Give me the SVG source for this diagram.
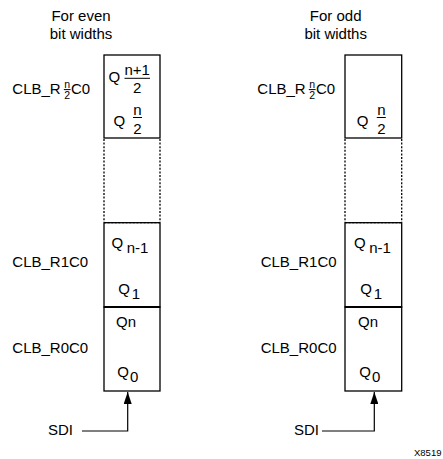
<svg xmlns="http://www.w3.org/2000/svg" width="443" height="459" viewBox="0 0 443 459">
<style>
text{font-family:"Liberation Sans",Arial,sans-serif;font-size:15px;fill:#000}
.t{text-anchor:middle}
.sm{font-size:10.5px;text-anchor:middle}
.box{fill:#fff;stroke:#000;stroke-width:1.3}
.dot{fill:none;stroke:#000;stroke-width:1.3;stroke-dasharray:2 1.6}
.div{stroke:#000;stroke-width:2}
.fl{stroke:#000;stroke-width:1}
.wire{fill:none;stroke:#000;stroke-width:1.2}
.id{font-size:9.5px}
</style>
<defs>
<marker id="ah" viewBox="0 0 12 8" refX="12" refY="4" markerWidth="12" markerHeight="8" markerUnits="userSpaceOnUse" orient="auto">
<path d="M0,0 L12,4 L0,8 Z" fill="#000"/>
</marker>
</defs>

<g id="title-even"><text class="t" x="81" y="20.5">For even</text><text class="t" x="81" y="39.3">bit widths</text></g>
<g id="title-odd"><text class="t" x="335.7" y="20.5">For odd</text><text class="t" x="335.7" y="39.3">bit widths</text></g>

<!-- left column -->
<g id="even-top">
<rect class="box" x="104" y="55" width="56" height="83"/>
<text x="12.3" y="93.5">CLB_R</text>
<text class="sm" x="67.2" y="87.7">n</text>
<line class="fl" x1="63.8" y1="89.6" x2="70.6" y2="89.6"/>
<text class="sm" x="67.2" y="99.3">2</text>
<text x="71" y="93.5">C0</text>
<text x="108.5" y="81.5">Q</text>
<text class="t" x="137.2" y="75">n+1</text>
<line class="fl" x1="124.5" y1="78.3" x2="150" y2="78.3"/>
<text class="t" x="137.2" y="92.5">2</text>
<text x="113.5" y="125.5">Q</text>
<text class="t" x="137.5" y="115">n</text>
<line class="fl" x1="133" y1="117.5" x2="142" y2="117.5"/>
<text class="t" x="137.5" y="133.5">2</text>
</g>
<g id="even-gap">
<line class="dot" x1="104" y1="139" x2="104" y2="222"/>
<line class="dot" x1="160" y1="139" x2="160" y2="222"/>
</g>
<g id="even-r1c0">
<rect class="box" x="104" y="222.7" width="56" height="84.3"/>
<line class="dot" x1="104" y1="222.7" x2="160" y2="222.7"/>
<text x="12.3" y="266.7">CLB_R1C0</text>
<text x="111.5" y="248.3">Q</text>
<text x="126.7" y="253.3">n-1</text>
<text x="118.3" y="294">Q</text>
<text x="131.7" y="298.7">1</text>
</g>
<g id="even-r0c0">
<rect class="box" x="104" y="307" width="56" height="84"/>
<text x="12.3" y="352.7">CLB_R0C0</text>
<text x="116" y="327.3">Qn</text>
<text x="117.3" y="376.7">Q</text>
<text x="130" y="381.7">0</text>
</g>
<line class="div" x1="104" y1="307" x2="160" y2="307"/>
<g id="even-sdi"><text x="48" y="435">SDI</text></g>

<!-- right column -->
<g id="odd-top">
<rect class="box" x="345" y="55" width="56.7" height="83"/>
<text x="257.3" y="93.5">CLB_R</text>
<text class="sm" x="312.2" y="87.7">n</text>
<line class="fl" x1="308.8" y1="89.6" x2="315.6" y2="89.6"/>
<text class="sm" x="312.2" y="99.3">2</text>
<text x="316" y="93.5">C0</text>
<text x="356.7" y="125.5">Q</text>
<text class="t" x="381.3" y="115">n</text>
<line class="fl" x1="376.8" y1="117.5" x2="385.8" y2="117.5"/>
<text class="t" x="381.3" y="133.5">2</text>
</g>
<g id="odd-gap">
<line class="dot" x1="345" y1="139" x2="345" y2="222"/>
<line class="dot" x1="401.7" y1="139" x2="401.7" y2="222"/>
</g>
<g id="odd-r1c0">
<rect class="box" x="345" y="222.7" width="56.7" height="84.3"/>
<line class="dot" x1="345" y1="222.7" x2="401.7" y2="222.7"/>
<text x="260.7" y="266.7">CLB_R1C0</text>
<text x="354" y="248.3">Q</text>
<text x="369.2" y="253.3">n-1</text>
<text x="360.3" y="294">Q</text>
<text x="373.7" y="298.7">1</text>
</g>
<g id="odd-r0c0">
<rect class="box" x="345" y="307" width="56.7" height="84"/>
<text x="260.7" y="352.7">CLB_R0C0</text>
<text x="358" y="327.3">Qn</text>
<text x="359.3" y="376.7">Q</text>
<text x="372" y="381.7">0</text>
</g>
<line class="div" x1="345" y1="307" x2="401.7" y2="307"/>
<g id="odd-sdi"><text x="294" y="435">SDI</text></g>

<g id="connectors">
<path class="wire" d="M82,431 H127.7 V392" marker-end="url(#ah)"/>
<path class="wire" d="M322,431 H374.3 V392" marker-end="url(#ah)"/>
</g>

<text class="id" x="414" y="456">X8519</text>
</svg>
